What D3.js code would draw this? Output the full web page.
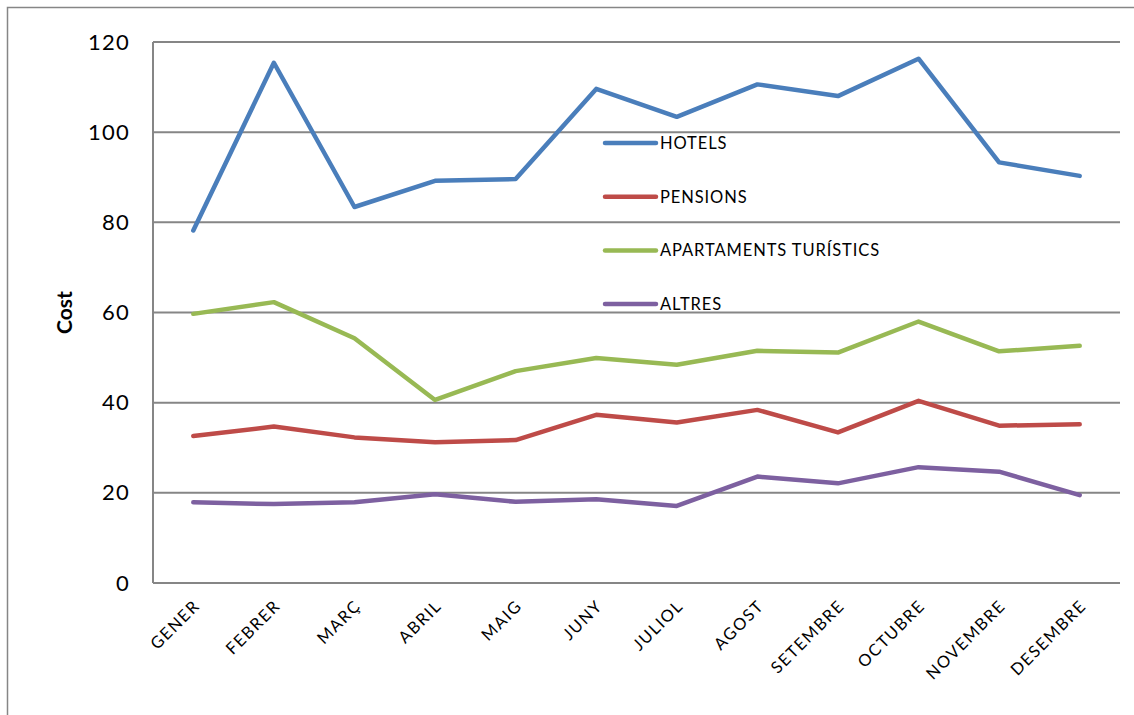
<!DOCTYPE html>
<html><head><meta charset="utf-8">
<script src="https://cdn.jsdelivr.net/npm/d3@7"></script>
<style>
html,body{margin:0;padding:0;background:#fff;}
svg{display:block;font-family:"Lato","Noto Sans",sans-serif;}
</style></head>
<body><svg id="chart" width="1134" height="715"></svg>
<script>
const months = ["GENER","FEBRER","MARÇ","ABRIL","MAIG","JUNY","JULIOL","AGOST","SETEMBRE","OCTUBRE","NOVEMBRE","DESEMBRE"];
const seriesNames = ["HOTELS","PENSIONS","APARTAMENTS TURÍSTICS","ALTRES"];
const seriesColors = ["#4a7ebb","#be4b48","#98b954","#7d60a0"];
const hotels = [78.2,115.4,83.4,89.2,89.6,109.6,103.4,110.6,108.0,116.3,93.3,90.3];
const pensions = [32.6,34.7,32.3,31.2,31.7,37.3,35.6,38.4,33.4,40.4,34.9,35.2];
const apartaments = [59.7,62.3,54.3,40.6,47.0,49.9,48.4,51.5,51.1,58.0,51.4,52.6];
const altres = [17.9,17.5,17.9,19.7,18.0,18.6,17.1,23.6,22.1,25.7,24.7,19.5];
const yTicks = [0,20,40,60,80,100,120];
const yLabel = "Cost";

const allSeries = [hotels, pensions, apartaments, altres];
const svg = d3.select("#chart");
const L = 153, R = 1120, T = 42, B = 583;
const grid = "#868686";

// outer frame
svg.append("path").attr("d","M7.5,720 V7.5 H1140").attr("fill","none").attr("stroke",grid).attr("stroke-width",1.5);

const x = d3.scalePoint().domain(months).range([L,R]).padding(0.5);
const y = d3.scaleLinear().domain([0,120]).range([B,T]);

// gridlines
svg.append("g").selectAll("line").data(yTicks).join("line")
  .attr("x1",L).attr("x2",R).attr("y1",d=>y(d)).attr("y2",d=>y(d))
  .attr("stroke",grid).attr("stroke-width",2);
// left axis line
svg.append("line").attr("x1",L).attr("x2",L).attr("y1",T).attr("y2",B).attr("stroke",grid).attr("stroke-width",2);

// y axis labels
const yAxis = d3.axisLeft(y).tickValues(yTicks).tickSize(0).tickPadding(23);
const gy = svg.append("g").attr("transform",`translate(${L},0)`).call(yAxis);
gy.select(".domain").remove();
gy.selectAll("text").attr("font-size",22).attr("letter-spacing",1.2).attr("fill","#000")
  .attr("font-family","Lato, 'Noto Sans', sans-serif");

// y axis title
svg.append("text").attr("transform",`translate(72,${(T+B)/2}) rotate(-90)`)
  .attr("text-anchor","middle").attr("font-size",21).attr("font-weight","bold").text(yLabel);

// x axis labels
const xAxis = d3.axisBottom(x).tickSize(0).tickPadding(0);
const gx = svg.append("g").attr("transform",`translate(0,${B})`).call(xAxis);
gx.select(".domain").remove();
gx.selectAll("text")
  .attr("font-size",16.5).attr("letter-spacing",1.5).attr("fill","#000")
  .attr("font-family","Lato, 'Noto Sans', sans-serif")
  .attr("text-anchor","end").attr("dy",null).attr("y",0)
  .attr("transform","translate(7,24) rotate(-45)");

// lines
const line = d3.line().x((d,i)=>x(months[i])).y(d=>y(d));
svg.append("g").selectAll("path").data(allSeries).join("path")
  .attr("d",line).attr("fill","none")
  .attr("stroke",(d,i)=>seriesColors[i]).attr("stroke-width",4.5)
  .attr("stroke-linejoin","round").attr("stroke-linecap","round");

// legend
const lg = svg.append("g").selectAll("g").data(seriesNames).join("g")
  .attr("transform",(d,i)=>`translate(603,${143+i*53.7})`);
lg.append("line").attr("x1",2).attr("x2",53).attr("y1",0).attr("y2",0)
  .attr("stroke",(d,i)=>seriesColors[i]).attr("stroke-width",4.5).attr("stroke-linecap","round");
lg.append("text").attr("x",57).attr("y",0).attr("dy","0.36em").attr("font-size",16.5)
  .attr("letter-spacing",0.9).attr("fill","#000").text(d=>d);
</script></body></html>
